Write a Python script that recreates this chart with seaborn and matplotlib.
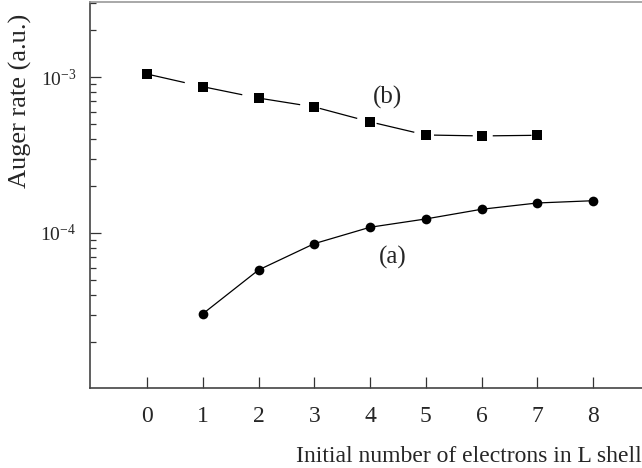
import numpy as np
import pandas as pd
import matplotlib
matplotlib.use("Agg")
import matplotlib.pyplot as plt
import matplotlib.ticker as mticker
import seaborn as sns

# data
x_b = [0, 1, 2, 3, 4, 5, 6, 7]
y_b = [1.045e-3, 8.67e-4, 7.33e-4, 6.43e-4, 5.16e-4, 4.25e-4, 4.19e-4, 4.23e-4]
x_a = [1, 2, 3, 4, 5, 6, 7, 8]
y_a = [3.03e-5, 5.79e-5, 8.54e-5, 1.088e-4, 1.23e-4, 1.419e-4, 1.557e-4, 1.61e-4]
xticks = [0, 1, 2, 3, 4, 5, 6, 7, 8]
yticks = [1e-4, 1e-3]
ytick_labels = [r"10$^{-4}$", r"10$^{-3}$"]
xlabel = "Initial number of electrons in L shell"
ylabel = "Auger rate (a.u.)"

sns.set_style("ticks")
plt.rcParams['font.family'] = ['Liberation Serif', 'DejaVu Serif']
plt.rcParams['mathtext.fontset'] = 'custom'
plt.rcParams['mathtext.rm'] = 'Liberation Serif'
plt.rcParams['mathtext.it'] = 'Liberation Serif:italic'
plt.rcParams['mathtext.default'] = 'regular'

fig = plt.figure(figsize=(6.42, 4.68), dpi=100)
W, H = 642, 468
ax = fig.add_axes([90 / W, (H - 388) / H, 1 - 90 / W, (388 - 2) / H])

df_b = pd.DataFrame({"x": x_b, "y": y_b})
df_a = pd.DataFrame({"x": x_a, "y": y_a})

sns.lineplot(data=df_b, x="x", y="y", ax=ax, color="black", marker="s",
             markersize=6.8, markeredgewidth=0, linewidth=0.9,
             linestyle=(0, (31, 16)))
sns.lineplot(data=df_a, x="x", y="y", ax=ax, color="black", marker="o",
             markersize=7, markeredgewidth=0, linewidth=0.9)

ax.set_yscale("log")
ax.set_xlim((90 - 147) / 55.75, (642 - 147) / 55.75)
ax.set_ylim(10 ** -4.994, 10 ** -2.519)
ax.set_xticks(xticks)
ax.set_xticklabels([str(t) for t in xticks])
ax.yaxis.set_major_locator(mticker.FixedLocator(yticks))
ax.yaxis.set_major_formatter(mticker.FixedFormatter(ytick_labels))
minors = [m * 10.0 ** e for e in (-5, -4, -3) for m in range(2, 10)]
ax.yaxis.set_minor_locator(mticker.FixedLocator(minors))
ax.yaxis.set_minor_formatter(mticker.NullFormatter())

ax.tick_params(axis="both", which="major", direction="in", length=8, width=0.9,
               color="#333333")
ax.tick_params(axis="x", which="major", labelsize=17, pad=13)
ax.tick_params(axis="y", which="major", labelsize=14, pad=10)
ax.tick_params(axis="y", which="minor", direction="in", length=4.5, width=0.9, color="#333333")

for s in ["left", "bottom", "top"]:
    ax.spines[s].set_color("#444444")
    ax.spines[s].set_linewidth(1.2)
ax.spines["right"].set_visible(False)
ax.spines["top"].set_color("#999999")

ax.set_xlabel(xlabel, fontsize=17, loc="right", labelpad=14)
ax.set_ylabel(ylabel, fontsize=19)
ax.yaxis.set_label_coords((20 - 90) / 552, (388 - 101) / 386)
ax.yaxis.label.set_verticalalignment("center")
ax.yaxis.label.set_horizontalalignment("center")

ax.text(4.32, 7.44e-4, "(b)", fontsize=18, ha="center", va="center")
ax.text(4.41, 6.92e-5, "(a)", fontsize=18, ha="center", va="center")

fig.savefig("out.png", dpi=100)
